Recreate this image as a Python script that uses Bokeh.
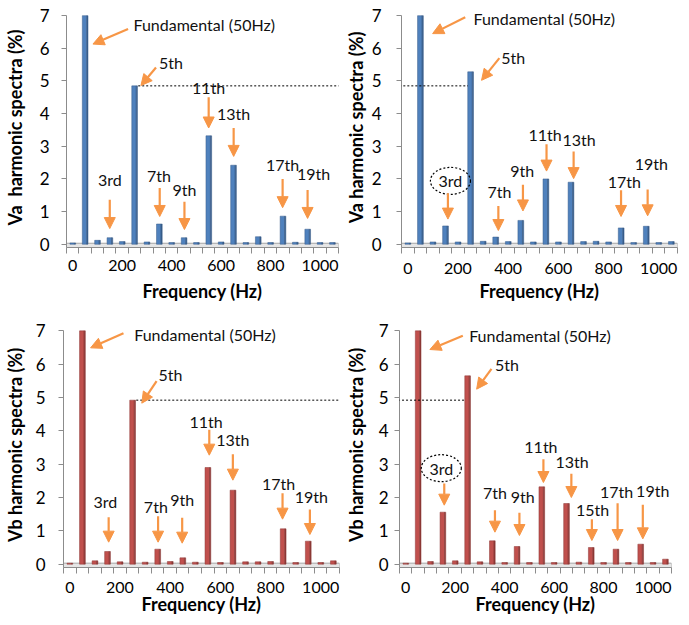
from bokeh.plotting import figure
from bokeh.layouts import row, column
from bokeh.models import Range1d, FixedTicker, Arrow, NormalHead, ColumnDataSource
from bokeh.transform import dodge
from bokeh.core.properties import value
from bokeh.embed import file_html
from bokeh.resources import INLINE

# ---------------- data ----------------
frequency_hz = [0, 50, 100, 150, 200, 250, 300, 350, 400, 450, 500,
                550, 600, 650, 700, 750, 800, 850, 900, 950, 1000, 1050]
x_tick_values = [0, 200, 400, 600, 800, 1000]
y_tick_values = [0, 1, 2, 3, 4, 5, 6, 7]

va_left = [0.04, 7.0, 0.12, 0.20, 0.08, 4.85, 0.07, 0.62, 0.05, 0.20, 0.05,
           3.32, 0.07, 2.42, 0.05, 0.23, 0.05, 0.86, 0.06, 0.46, 0.05, 0.05]
va_right = [0.04, 7.0, 0.07, 0.56, 0.07, 5.28, 0.09, 0.22, 0.08, 0.73, 0.07,
            2.00, 0.07, 1.90, 0.08, 0.09, 0.07, 0.50, 0.05, 0.55, 0.05, 0.08]
vb_left = [0.03, 7.0, 0.10, 0.38, 0.07, 4.92, 0.06, 0.45, 0.08, 0.19, 0.06,
           2.90, 0.05, 2.22, 0.07, 0.07, 0.08, 1.06, 0.05, 0.69, 0.05, 0.10]
vb_right = [0.03, 7.0, 0.08, 1.56, 0.10, 5.65, 0.07, 0.70, 0.05, 0.53, 0.05,
            2.32, 0.05, 1.82, 0.06, 0.50, 0.05, 0.45, 0.05, 0.60, 0.05, 0.15]

# annotation layout: (label, text_x, text_y, arrow_x0, arrow_y0, arrow_x1, arrow_y1)
notes_tl = [
    ("Fundamental (50Hz)", 532, 6.74, 224, 6.59, 82, 6.13),
    ("5th", 397, 5.56, 337, 5.41, 276, 4.86),
    ("3rd", 150, 1.99, 150, 1.36, 150, 0.48),
    ("7th", 349, 2.11, 352, 1.72, 352, 0.85),
    ("9th", 452, 1.69, 452, 1.30, 452, 0.45),
    ("11th", 550, 4.80, 550, 4.50, 550, 3.56),
    ("13th", 651, 4.01, 651, 3.56, 651, 2.69),
    ("17th", 849, 2.43, 849, 2.00, 849, 1.12),
    ("19th", 974, 2.18, 950, 1.66, 950, 0.79),
]
notes_tr = [
    ("Fundamental (50Hz)", 544, 6.91, 229, 6.95, 99, 6.45),
    ("5th", 420, 5.73, 365, 5.70, 294, 5.02),
    ("3rd", 170, 1.94, 160, 1.56, 160, 0.77),
    ("7th", 365, 1.62, 361, 1.17, 361, 0.42),
    ("9th", 456, 2.26, 459, 1.82, 459, 1.02),
    ("11th", 547, 3.36, 553, 3.06, 553, 2.24),
    ("13th", 683, 3.21, 661, 2.84, 661, 2.01),
    ("17th", 863, 1.91, 850, 1.65, 850, 0.85),
    ("19th", 971, 2.46, 956, 1.68, 956, 0.87),
]
notes_bl = [
    ("Fundamental (50Hz)", 539, 6.90, 214, 6.93, 83, 6.49),
    ("5th", 401, 5.68, 346, 5.49, 287, 4.83),
    ("3rd", 142, 1.88, 155, 1.41, 155, 0.66),
    ("7th", 343, 1.73, 352, 1.44, 352, 0.66),
    ("9th", 448, 1.93, 448, 1.39, 448, 0.63),
    ("11th", 543, 4.27, 556, 4.03, 556, 3.27),
    ("13th", 650, 3.73, 650, 3.30, 650, 2.52),
    ("17th", 832, 2.42, 848, 2.13, 848, 1.35),
    ("19th", 963, 2.03, 957, 1.64, 957, 0.89),
]
notes_br = [
    ("Fundamental (50Hz)", 543, 6.87, 231, 6.85, 98, 6.44),
    ("5th", 410, 5.99, 347, 5.86, 287, 5.25),
    ("3rd", 144, 2.88, 156, 2.42, 156, 1.77),
    ("7th", 361, 2.15, 361, 1.62, 361, 0.96),
    ("9th", 473, 2.03, 460, 1.54, 460, 0.86),
    ("11th", 547, 3.54, 557, 3.15, 557, 2.45),
    ("13th", 673, 3.07, 670, 2.71, 670, 2.00),
    ("15th", 756, 1.64, 753, 1.35, 753, 0.71),
    ("17th", 853, 2.18, 857, 1.83, 857, 0.71),
    ("19th", 999, 2.22, 959, 1.78, 959, 0.76),
]

# ---------------- style ----------------
X0, X1 = -25, 1075
Y0, Y1, YTOP = -0.1, 7, 7.25
GRAY = "#8C8C8C"
ORANGE = "#F79646"
FONT = "Lato"
BLUE, BLUE_SIDE = "#4F81BD", "#385D8A"
RED, RED_SIDE = "#C0504D", "#8C3836"


def make_panel(values, front, side, ylabel, notes, circled, ref_y, ref_span, dims):
    (fw, fh, bl, br, bt, bb, ytick_sd, ytitle_sd, xtick_sd, xtitle_sd) = dims
    p = figure(frame_width=fw, frame_height=fh,
               x_range=Range1d(X0, X1), y_range=Range1d(Y0, YTOP),
               output_backend="svg", toolbar_location=None,
               min_border_left=bl, min_border_right=br,
               min_border_top=bt, min_border_bottom=bb)
    p.outline_line_color = None
    p.xgrid.visible = False
    p.ygrid.visible = False

    # 3-D style floor
    p.quad(left=[X0], right=[X1], bottom=[Y0], top=[0.03],
           fill_color="#E6E6E6", line_color="#A6A6A6", line_width=1)

    src = ColumnDataSource(dict(f=frequency_hz, v=values))
    p.vbar(x=dodge("f", -2), top="v", bottom=0, width=18, source=src,
           fill_color=front, line_color=side, line_width=0.5)
    p.vbar(x=dodge("f", 9.5), top="v", bottom=0, width=5, source=src,
           fill_color=side, line_color=side, line_width=0.5)

    # dotted reference level (left-panel 5th harmonic)
    p.add_layout(Arrow(start=None, end=None, x_start=ref_span[0], y_start=ref_y,
                       x_end=ref_span[1], y_end=ref_y, line_color="black",
                       line_dash="2 2", line_width=1))

    nsrc = ColumnDataSource(dict(
        label=[n[0] for n in notes], tx=[n[1] for n in notes], ty=[n[2] for n in notes],
        x0=[n[3] for n in notes], y0=[n[4] for n in notes],
        x1=[n[5] for n in notes], y1=[n[6] for n in notes]))
    p.add_layout(Arrow(end=NormalHead(size=11, fill_color=ORANGE, line_color=ORANGE),
                       source=nsrc, x_start="x0", y_start="y0", x_end="x1", y_end="y1",
                       line_color=ORANGE, line_width=2.2))
    p.text(x="tx", y="ty", text="label", source=nsrc, text_font=value(FONT),
           text_font_size="16px", text_align="center", text_baseline="middle",
           text_color="#111111")

    if circled:
        c = [n for n in notes if n[0] == circled][0]
        p.ellipse(x=[c[1]], y=[c[2]], width=40, height=27,
                  width_units="screen", height_units="screen",
                  fill_color=None, line_color="black", line_dash="2 2", line_width=1.2)

    xa = p.xaxis[0]
    xa.ticker = FixedTicker(ticks=x_tick_values,
                            minor_ticks=[X0 + 50 * k for k in range(23)])
    xa.major_tick_out = 0
    xa.major_tick_in = 0
    xa.minor_tick_out = 6
    xa.minor_tick_in = 0
    xa.minor_tick_line_color = GRAY
    xa.axis_line_color = GRAY
    xa.major_label_text_font = FONT
    xa.major_label_text_font_size = "16px"
    xa.major_label_text_color = "black"
    xa.major_label_standoff = xtick_sd
    xa.axis_label = "Frequency (Hz)"
    xa.axis_label_text_font = FONT
    xa.axis_label_text_font_size = "18px"
    xa.axis_label_text_font_style = "bold"
    xa.axis_label_text_color = "black"
    xa.axis_label_standoff = xtitle_sd

    ya = p.yaxis[0]
    ya.ticker = FixedTicker(ticks=y_tick_values, minor_ticks=[])
    ya.bounds = (Y0, Y1)
    ya.major_tick_out = 5
    ya.major_tick_in = 0
    ya.major_tick_line_color = GRAY
    ya.minor_tick_line_color = None
    ya.axis_line_color = GRAY
    ya.major_label_text_font = FONT
    ya.major_label_text_font_size = "17px"
    ya.major_label_text_color = "black"
    ya.major_label_standoff = ytick_sd
    ya.axis_label = ylabel
    ya.axis_label_text_font = FONT
    ya.axis_label_text_font_size = "18px"
    ya.axis_label_text_font_style = "bold"
    ya.axis_label_text_color = "black"
    ya.axis_label_standoff = ytitle_sd
    return p


fifth = frequency_hz.index(250)
# dims: frame_w, frame_h, border L, R, T, B, ytick standoff, ytitle standoff, xtick standoff, xtitle standoff
tl = make_panel(va_left, BLUE, BLUE_SIDE, "Va\u00a0 harmonic spectra (%)", notes_tl, None,
                va_left[fifth], [frequency_hz[fifth] + 15, X1 + 20],
                (272, 240, 60, 3, 7, 57, 12, 11, 6, 6))
tr = make_panel(va_right, BLUE, BLUE_SIDE, "Va harmonic spectra (%)", notes_tr, "3rd",
                va_left[fifth], [X0 - 200, frequency_hz[fifth] - 10],
                (276, 240, 54, 3, 7, 57, 15, 2, 9, 3))
bl = make_panel(vb_left, RED, RED_SIDE, "Vb harmonic spectra (%)", notes_bl, None,
                vb_left[fifth], [frequency_hz[fifth] + 15, X1 + 20],
                (276, 245, 57, 2, 18, 50, 13, 7, 8, -3))
br = make_panel(vb_right, RED, RED_SIDE, "Vb harmonic spectra (%)", notes_br, "3rd",
                vb_left[fifth], [X0 - 200, frequency_hz[fifth] - 10],
                (272, 245, 53, 7, 18, 50, 6, 9, 8, -3))

layout = column(row(tl, tr), row(bl, br))
open("out.html", "w").write(file_html(layout, INLINE))
